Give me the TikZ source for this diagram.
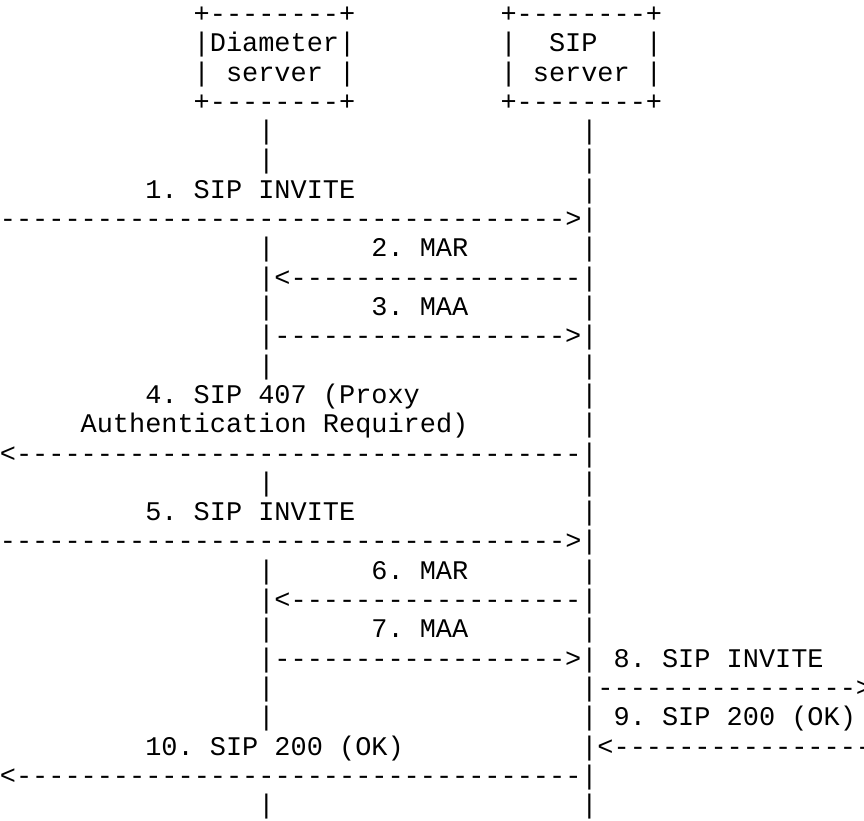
\documentclass[tikz,border=0pt]{standalone}
\usepackage{fontspec}
\setmonofont{Liberation Mono}
\usetikzlibrary{positioning}
\begin{document}
\begin{tikzpicture}[x=1pt,y=1pt,
  ascii/.style={text=drawColor,anchor=base west,inner sep=0pt,outer sep=0pt,
    font=\fontsize{26.92}{29.3}\selectfont\ttfamily}]
\definecolor{fillColor}{RGB}{255,255,255}
\path[use as bounding box,fill=fillColor] (0,0) rectangle (864.00,820.00);
\begin{scope}
\path[clip] (  0.00,  0.00) rectangle (864.00,820.00);
\definecolor{drawColor}{RGB}{0,0,0}

% server boxes
\node[ascii] (dtop) at (193.73,797.50) {+--------+};
\node[ascii] (stop) at (500.58,797.50) {+--------+};
\node[ascii] (dname) at (193.73,768.20) {|Diameter|};
\node[ascii] (sname) at (500.58,768.20) {|~~SIP~~~|};
\node[ascii] (dsrv) at (193.73,738.90) {|~server~|};
\node[ascii] (ssrv) at (500.58,738.90) {|~server~|};
\node[ascii] (dbot) at (193.73,709.60) {+--------+};
\node[ascii] (sbot) at (500.58,709.60) {+--------+};

\node[ascii] (dlifeA) at (258.33,680.30) {|};
\node[ascii] (slifeA) at (581.33,680.30) {|};
\node[ascii] (dlifeB) at (258.33,651.00) {|};
\node[ascii] (slifeB) at (581.33,651.00) {|};

% 1. SIP INVITE
\node[ascii] (msgA) at (145.28,621.70) {1. SIP INVITE};
\node[ascii] (slifeC) at (581.33,621.70) {|};
\node[ascii] (arrA) at ( -0.07,592.40) {----------------------------------->|};

% 2. MAR, 3. MAA
\node[ascii] (dlifeD) at (258.33,563.10) {|};
\node[ascii] (msgB) at (371.38,563.10) {2. MAR};
\node[ascii] (slifeD) at (581.33,563.10) {|};
\node[ascii] (arrB) at (258.33,533.80) {|<------------------|};
\node[ascii] (dlifeE) at (258.33,504.50) {|};
\node[ascii] (msgC) at (371.38,504.50) {3. MAA};
\node[ascii] (slifeE) at (581.33,504.50) {|};
\node[ascii] (arrC) at (258.33,475.20) {|------------------>|};
\node[ascii] (dlifeF) at (258.33,445.90) {|};
\node[ascii] (slifeF) at (581.33,445.90) {|};

% 4. SIP 407
\node[ascii] (msgD) at (145.28,416.60) {4. SIP 407 (Proxy};
\node[ascii] (slifeG) at (581.33,416.60) {|};
\node[ascii] (msgDb) at ( 80.68,387.30) {Authentication Required)};
\node[ascii] (slifeH) at (581.33,387.30) {|};
\node[ascii] (arrD) at ( -0.07,358.00) {<-----------------------------------|};
\node[ascii] (dlifeI) at (258.33,328.70) {|};
\node[ascii] (slifeI) at (581.33,328.70) {|};

% 5. SIP INVITE
\node[ascii] (msgE) at (145.28,299.40) {5. SIP INVITE};
\node[ascii] (slifeJ) at (581.33,299.40) {|};
\node[ascii] (arrE) at ( -0.07,270.10) {----------------------------------->|};

% 6. MAR, 7. MAA
\node[ascii] (dlifeK) at (258.33,240.80) {|};
\node[ascii] (msgF) at (371.38,240.80) {6. MAR};
\node[ascii] (slifeK) at (581.33,240.80) {|};
\node[ascii] (arrF) at (258.33,211.50) {|<------------------|};
\node[ascii] (dlifeL) at (258.33,182.20) {|};
\node[ascii] (msgG) at (371.38,182.20) {7. MAA};
\node[ascii] (slifeL) at (581.33,182.20) {|};
\node[ascii] (arrG) at (258.33,152.90) {|------------------>|};

% 8. SIP INVITE, 9. SIP 200
\node[ascii] (msgH) at (613.63,152.90) {8. SIP INVITE};
\node[ascii] (dlifeM) at (258.33,123.60) {|};
\node[ascii] (arrH) at (581.33,123.60) {|---------------->};
\node[ascii] (dlifeN) at (258.33, 94.30) {|};
\node[ascii] (slifeN) at (581.33, 94.30) {|};
\node[ascii] (msgI) at (613.63, 94.30) {9. SIP 200 (OK)};
\node[ascii] (arrI) at (581.33, 65.00) {|<----------------};

% 10. SIP 200
\node[ascii] (msgJ) at (145.28, 65.00) {10. SIP 200 (OK)};
\node[ascii] (arrJ) at ( -0.07, 35.70) {<-----------------------------------|};
\node[ascii] (dlifeO) at (258.33,  6.40) {|};
\node[ascii] (slifeO) at (581.33,  6.40) {|};
\end{scope}
\end{tikzpicture}
\end{document}
